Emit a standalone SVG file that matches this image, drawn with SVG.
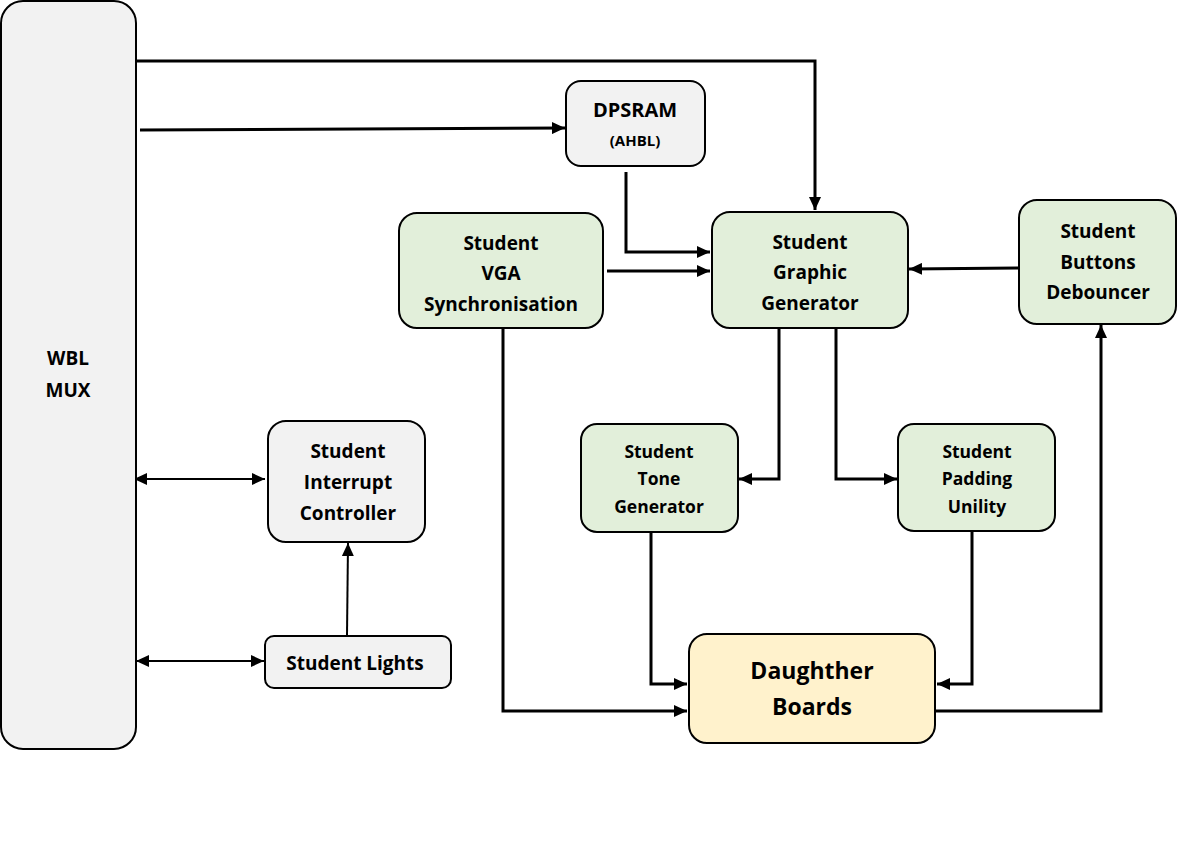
<svg xmlns="http://www.w3.org/2000/svg" width="1180" height="866" viewBox="0 0 1180 866">
<defs>
<style>
.box{stroke:#000;stroke-width:2}
.grey{fill:#f2f2f2}
.green{fill:#e2efda}
.yellow{fill:#fff2cc}
text{font-family:"Open Sans","Liberation Sans",sans-serif;font-weight:bold;text-anchor:middle;fill:#000}
.t19{font-size:19px}
.t20{font-size:20px}
.t17{font-size:17.5px}
.t13{font-size:15px}
.t24{font-size:23px}
.c{fill:none;stroke:#000;stroke-width:3}
.thin{fill:none;stroke:#000;stroke-width:2}
</style>
<marker id="ah" markerWidth="13" markerHeight="12" refX="13" refY="6" orient="auto" markerUnits="userSpaceOnUse">
<path d="M0,0 L13,6 L0,12 Z" fill="#000"/>
</marker>
<marker id="as" markerWidth="13" markerHeight="12" refX="0" refY="6" orient="auto" markerUnits="userSpaceOnUse">
<path d="M13,0 L0,6 L13,12 Z" fill="#000"/>
</marker>
</defs>
<rect width="1180" height="866" fill="#fff"/>
<g id="connectors">
<path class="c" d="M136,61 H815 V210" marker-end="url(#ah)"/>
<path class="c" d="M140,130 L565,128" marker-end="url(#ah)"/>
<path class="c" d="M626,172 V252 H710" marker-end="url(#ah)"/>
<path class="c" d="M607,271 L710,271" marker-end="url(#ah)"/>
<path class="c" d="M1019,268 L909,269" marker-end="url(#ah)"/>
<path class="c" d="M779,328 V479 H739" marker-end="url(#ah)"/>
<path class="c" d="M836,328 V479 H897" marker-end="url(#ah)"/>
<path class="c" d="M503,328 V711 H687" marker-end="url(#ah)"/>
<path class="c" d="M651,532 V684 H687" marker-end="url(#ah)"/>
<path class="c" d="M972,531 V684 H937" marker-end="url(#ah)"/>
<path class="c" d="M935,711 H1101 V325" marker-end="url(#ah)"/>
<path class="thin" d="M134,479 H265" marker-start="url(#as)" marker-end="url(#ah)"/>
<path class="thin" d="M136,661 H264" marker-start="url(#as)" marker-end="url(#ah)"/>
<path class="thin" d="M347,635 L348,543" marker-end="url(#ah)"/>
</g>
<g id="wbl-mux">
<rect class="box grey" x="1" y="1" width="135" height="748" rx="22"/>
<text class="t19" x="68" y="365">WBL</text>
<text class="t19" x="68" y="397">MUX</text>
</g>
<g id="dpsram">
<rect class="box grey" x="566" y="81" width="139" height="85" rx="15"/>
<text class="t20" x="635" y="117">DPSRAM</text>
<text class="t13" x="635" y="146">(AHBL)</text>
</g>
<g id="vga">
<rect class="box green" x="399" y="213" width="204" height="115" rx="18"/>
<text class="t19" x="501" y="250">Student</text>
<text class="t19" x="501" y="280">VGA</text>
<text class="t19" x="501" y="311">Synchronisation</text>
</g>
<g id="graphic">
<rect class="box green" x="712" y="212" width="196" height="116" rx="18"/>
<text class="t19" x="810" y="249">Student</text>
<text class="t19" x="810" y="279">Graphic</text>
<text class="t19" x="810" y="310">Generator</text>
</g>
<g id="buttons">
<rect class="box green" x="1019" y="200" width="157" height="124" rx="18"/>
<text class="t19" x="1098" y="238">Student</text>
<text class="t19" x="1098" y="269">Buttons</text>
<text class="t19" x="1098" y="299">Debouncer</text>
</g>
<g id="tone">
<rect class="box green" x="581" y="424" width="157" height="108" rx="16"/>
<text class="t17" x="659" y="458">Student</text>
<text class="t17" x="659" y="485">Tone</text>
<text class="t17" x="659" y="513">Generator</text>
</g>
<g id="padding">
<rect class="box green" x="898" y="424" width="157" height="107" rx="16"/>
<text class="t17" x="977" y="458">Student</text>
<text class="t17" x="977" y="485">Padding</text>
<text class="t17" x="977" y="513">Unility</text>
</g>
<g id="interrupt">
<rect class="box grey" x="268" y="421" width="157" height="121" rx="18"/>
<text class="t19" x="348" y="458">Student</text>
<text class="t19" x="348" y="489">Interrupt</text>
<text class="t19" x="348" y="520">Controller</text>
</g>
<g id="lights">
<rect class="box grey" x="265" y="636" width="186" height="52" rx="9"/>
<text class="t19" x="355" y="670">Student Lights</text>
</g>
<g id="daughter">
<rect class="box yellow" x="689" y="634" width="246" height="109" rx="18"/>
<text class="t24" x="812" y="679">Daughther</text>
<text class="t24" x="812" y="715">Boards</text>
</g>
</svg>
